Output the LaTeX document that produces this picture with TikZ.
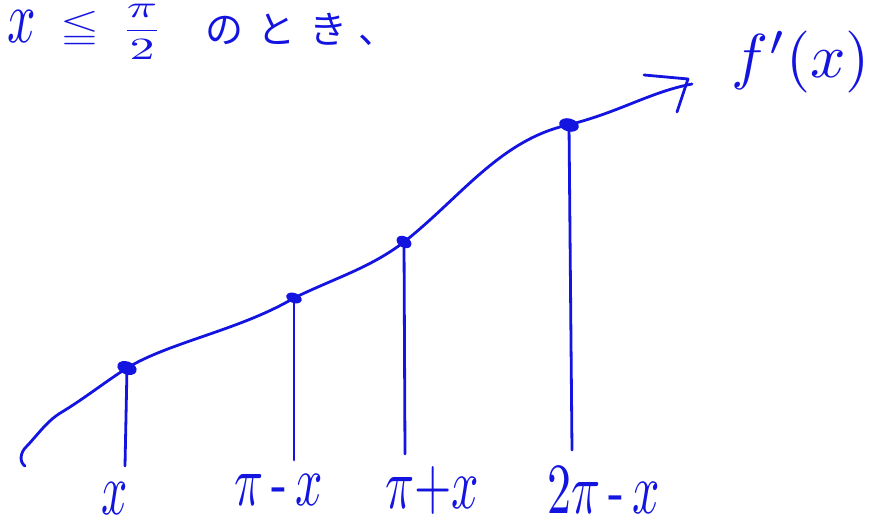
\documentclass[tikz,border=0pt]{standalone}
\usepackage{amsmath,amssymb}
\usepackage{fontspec}
\usetikzlibrary{shapes.geometric}
\newfontfamily\jpfont[LetterSpace=37]{Noto Sans CJK JP}
\definecolor{pen}{RGB}{20,20,225}
\newcommand{\mysc}[3]{\scalebox{#1}[#2]{#3}}
\begin{document}
\begin{tikzpicture}[x=1pt,y=-1pt,
  ink/.style={pen,line width=2.8pt,line cap=round,line join=round},
  dot/.style={ellipse,fill=pen,inner sep=0pt},
  lbl/.style={text=pen,inner sep=0pt,font=\fontsize{10}{12}\selectfont}]
\useasboundingbox (0,0) rectangle (880,526);
% heading
\node[lbl,anchor=base] (hx) at (22,43) {\mysc{5}{7.4}{$x$}};
\node[lbl,anchor=base] (hle) at (80,39) {\mysc{5}{3.6}{$\leqq$}};
\node[lbl,anchor=base] (hfr) at (142,38) {\mysc{5}{3.1}{$\dfrac{\pi}{2}$}};
\node[lbl,anchor=west,font=\fontsize{38}{40}\selectfont] (hjp) at (205,29) {\jpfont のとき、};
% curve
\draw[ink] (25,466) .. controls (19,462) and (20,452) .. (27,446)
  .. controls (40,432) and (48,420) .. (62,412)
  .. controls (85,398) and (105,382) .. (127,368)
  .. controls (170,342) and (240,330) .. (294,298)
  .. controls (335,278) and (370,268) .. (404,242)
  .. controls (460,198) and (500,140) .. (568,125)
  .. controls (620,112) and (650,92) .. (692,84);
% arrow head
\draw[ink] (644,75) -- (688,79) -- (677,112);
% points
\node[dot,minimum width=20pt,minimum height=13pt,rotate=-20] (p1) at (127,368) {};
\node[dot,minimum width=16pt,minimum height=10pt,rotate=-20] (p2) at (294,298) {};
\node[dot,minimum width=16pt,minimum height=11pt,rotate=-30] (p3) at (404,242) {};
\node[dot,minimum width=20pt,minimum height=13pt,rotate=-15] (p4) at (569,125) {};
\coordinate (b1) at (125,466);
\coordinate (b2) at (294,460);
\coordinate (b3) at (405,454);
\coordinate (b4) at (572,450);
\draw[ink] (p1.center) -- (b1);
\draw[ink] (p2.center) -- (b2);
\draw[ink] (p3.center) -- (b3);
\draw[ink] (p4.center) -- (b4);
% labels
\node[lbl] (l1) at (115,499) {\mysc{4.6}{7.4}{$x$}};
\node[lbl] (l2) at (279,490) {\mysc{4.8}{7.2}{$\pi\,\text{-}\,x$}};
\node[lbl] (l3) at (432,490) {\mysc{4.8}{7.2}{$\pi{+}x$}};
\node[lbl] (l4) at (604,490) {\mysc{4.8}{7.2}{$2\pi\,\text{-}\,x$}};
\node[lbl,anchor=base] (fp) at (801,78) {\mysc{6.2}{6.2}{$f'(x)$}};
\end{tikzpicture}
\end{document}
